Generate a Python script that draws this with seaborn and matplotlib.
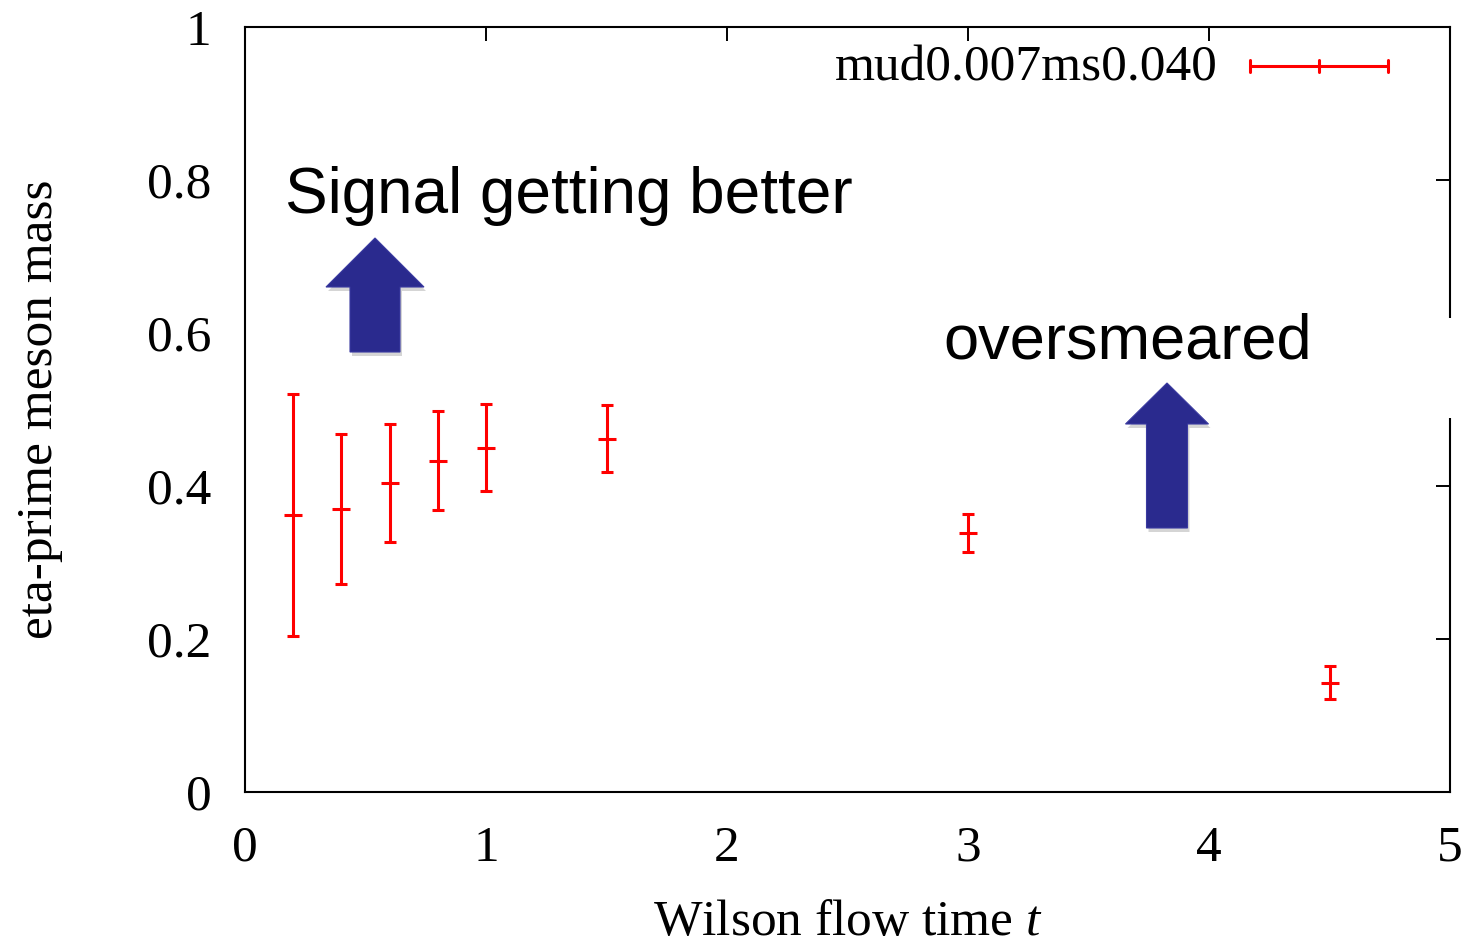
import numpy as np
import pandas as pd
import matplotlib
matplotlib.use("Agg")
import matplotlib.pyplot as plt
import seaborn as sns
from matplotlib.patches import Rectangle, FancyArrow
from matplotlib.lines import Line2D

# ---- data ----
flow_time = [0.2, 0.4, 0.6, 0.8, 1.0, 1.5, 3.0, 4.5]
mass = [0.362, 0.370, 0.404, 0.433, 0.450, 0.462, 0.339, 0.143]
mass_err = [0.158, 0.098, 0.077, 0.065, 0.057, 0.044, 0.025, 0.022]
series_label = "mud0.007ms0.040"
x_ticks = [0, 1, 2, 3, 4, 5]
y_ticks = [0, 0.2, 0.4, 0.6, 0.8, 1]
y_tick_labels = ["0", "0.2", "0.4", "0.6", "0.8", "1"]

df = pd.DataFrame({"t": flow_time, "m": mass, "err": mass_err})

sns.set_theme(style="white")
plt.rcParams["font.family"] = ["Liberation Serif", "DejaVu Serif"]
plt.rcParams["mathtext.fontset"] = "custom"
plt.rcParams["mathtext.rm"] = "Liberation Serif"
plt.rcParams["mathtext.it"] = "Liberation Serif:italic"

W, H = 1468, 944
fig = plt.figure(figsize=(W / 100, H / 100), dpi=100)
ax = fig.add_axes([245 / W, 1 - 792 / H, (1450 - 245) / W, (792 - 27) / H])

red = "#ff0000"
ax.errorbar(df["t"], df["m"], yerr=df["err"], fmt="none", ecolor=red,
            elinewidth=2.2, capsize=4.6, capthick=2.2, zorder=3)
sns.scatterplot(data=df, x="t", y="m", marker="_", s=160, color=red,
                linewidth=2.2, ax=ax, zorder=4, legend=False)

ax.set_xlim(0, 5)
ax.set_ylim(0, 1)
ax.set_xticks(x_ticks)
ax.set_xticklabels([str(v) for v in x_ticks])
ax.set_yticks(y_ticks)
ax.set_yticklabels(y_tick_labels)
ax.tick_params(axis="both", direction="in", length=10, width=1.4, color="black",
               labelsize=37, labelcolor="black", top=True, right=True)
ax.tick_params(axis="y", pad=24)
ax.tick_params(axis="x", pad=24)
for s in ax.spines.values():
    s.set_linewidth(1.5)
    s.set_color("black")
    s.set_visible(True)

ax.set_xlabel(r"Wilson flow time $t$", fontsize=37, labelpad=20, color="black")
ax.set_ylabel("eta-prime meson mass", fontsize=37, labelpad=61, color="black")

# legend (gnuplot style)
ax.text(1218 / W, 1 - 68 / H, series_label, transform=fig.transFigure,
        ha="right", va="center", fontsize=37, color="black")
yl = 1 - 66 / H
fig.add_artist(Line2D([1250 / W, 1388 / W], [yl, yl], color=red, lw=2.2, transform=fig.transFigure))
for xp in [1250, 1319, 1388]:
    fig.add_artist(Line2D([xp / W, xp / W], [yl - 6 / H, yl + 6 / H], color=red, lw=2.2,
                          transform=fig.transFigure))

# white box covering right spine behind "oversmeared"
fig.add_artist(Rectangle((930 / W, 1 - 418 / H), (W - 930) / W, 100 / H,
                         transform=fig.transFigure, facecolor="white", edgecolor="none", zorder=5))

sans = ["Liberation Sans", "DejaVu Sans"]
fig.text(285 / W, 1 - 196 / H, "Signal getting better", family=sans, fontsize=46,
         ha="left", va="center", color="black", zorder=6)
fig.text(943 / W, 1 - 342 / H, "oversmeared", family=sans, fontsize=45.5,
         ha="left", va="center", color="black", zorder=6)

# blue block arrows
navy = "#2a2a8e"
def block_arrow(cx, tip, bottom, shaft_w, head_w, head_len):
    sx = cx / W
    ytip = 1 - tip / H
    ybot = 1 - bottom / H
    shadow = FancyArrow(sx + 2 / W, ybot - 4 / H, 0, ytip - ybot, width=shaft_w / W,
                        head_width=head_w / W, head_length=head_len / H,
                        length_includes_head=True, transform=fig.transFigure,
                        facecolor="#888888", edgecolor="none", alpha=0.35, zorder=5.5)
    fig.add_artist(shadow)
    arr = FancyArrow(sx, ybot, 0, ytip - ybot, width=shaft_w / W, head_width=head_w / W,
                     head_length=head_len / H, length_includes_head=True,
                     transform=fig.transFigure, facecolor=navy, edgecolor="#3a3aa0",
                     lw=0.8, zorder=6)
    fig.add_artist(arr)

block_arrow(375, 238, 352, 50, 98, 49)
block_arrow(1167, 383, 528, 41, 83, 41)

fig.savefig("out.png", dpi=100)
